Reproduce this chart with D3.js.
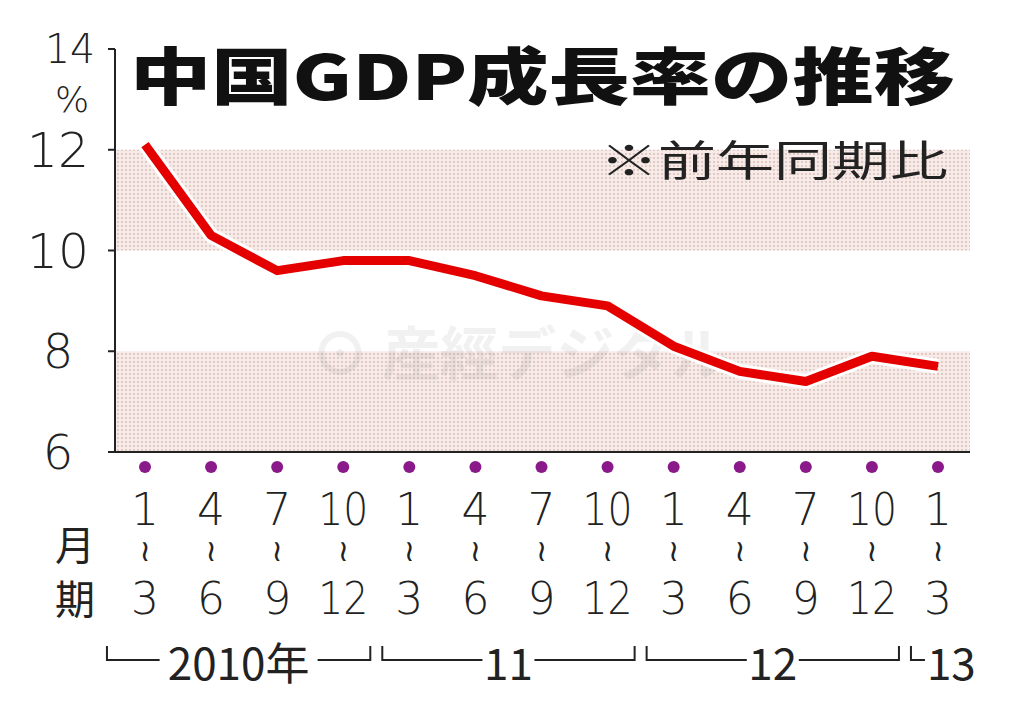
<!DOCTYPE html><html><head><meta charset="utf-8">
<script src="https://cdn.jsdelivr.net/npm/d3@7"></script>
<style>body{margin:0;background:#fff}svg{display:block}</style></head><body>
<svg id="c" width="1024" height="717"></svg>
<script>
const quarters=["1|3","4|6","7|9","10|12","1|3","4|6","7|9","10|12","1|3","4|6","7|9","10|12","1|3"];
const growth=[12.1,10.3,9.6,9.8,9.8,9.5,9.1,8.9,8.1,7.6,7.4,7.9,7.7];
const yTicks=[6,8,10,12,14];
const bands=[[6,8],[10,12]];
const years=[{label:"2010年",from:0,to:3},{label:"11",from:4,to:7},{label:"12",from:8,to:11},{label:"13",from:12,to:12}];
const svg=d3.select("#c");
const font="'DejaVu Sans','Liberation Sans',sans-serif";
const x=d3.scalePoint().domain(d3.range(growth.length)).range([145,938]);
const y=d3.scaleLinear().domain([6,14]).range([452,49]);
const defs=svg.append("defs");
const p=defs.append("pattern").attr("id","dots").attr("width",4).attr("height",4).attr("patternUnits","userSpaceOnUse");
p.append("rect").attr("width",4).attr("height",4).attr("fill","#f6ebe8");
p.append("circle").attr("cx",2).attr("cy",2).attr("r",0.9).attr("fill","#d9b8b0");
svg.selectAll(".band").data(bands).join("rect").attr("x",115).attr("width",855)
 .attr("y",d=>y(d[1])).attr("height",d=>y(d[0])-y(d[1])).attr("fill","url(#dots)");
svg.append("line").attr("x1",115).attr("x2",115).attr("y1",y(14)).attr("y2",y(6)).attr("stroke","#222").attr("stroke-width",2);
svg.append("line").attr("x1",115).attr("x2",970).attr("y1",y(6)).attr("y2",y(6)).attr("stroke","#222").attr("stroke-width",2);
svg.selectAll(".tk").data(yTicks).join("line").attr("x1",108).attr("x2",115).attr("y1",d=>y(d)).attr("y2",d=>y(d)).attr("stroke","#222").attr("stroke-width",2);
svg.selectAll(".yl").data(yTicks).join("text").attr("x",d=>d===14?70:58).attr("y",d=>y(d)+(d===14?14:17)).attr("text-anchor","middle")
 .attr("font-family",font).attr("font-weight",300).attr("font-size",d=>d===14?40:48).attr("fill","#222").attr("textLength",d=>d>=10?(d===14?50:62):null)
 .attr("lengthAdjust","spacingAndGlyphs").text(d=>d);
svg.append("text").attr("x",72).attr("y",112).attr("text-anchor","middle").attr("font-family",font).attr("font-weight",300).attr("font-size",36).attr("fill","#222").text("%");
svg.append("text").attr("x",520).attr("y",375).attr("text-anchor","middle").attr("font-family","'Noto Sans CJK JP'").attr("font-weight",700)
 .attr("font-size",58).attr("fill","#000").attr("opacity",0.05).text("⊙ 産經デジタル");
const ln=d3.line().x((d,i)=>x(i)).y(d=>y(d));
svg.append("path").datum(growth).attr("d",ln).attr("fill","none").attr("stroke","#fff").attr("stroke-width",15).attr("stroke-linejoin","round");
svg.append("path").datum(growth).attr("d",ln).attr("fill","none").attr("stroke","#e50000").attr("stroke-width",9).attr("stroke-linejoin","round");
svg.selectAll(".dt").data(quarters).join("circle").attr("cx",(d,i)=>x(i)).attr("cy",467).attr("r",6).attr("fill","#8a1a8a");
const jf="'Noto Sans CJK JP',sans-serif";
const g=svg.selectAll(".q").data(quarters).join("g").attr("transform",(d,i)=>`translate(${x(i)},0)`);
g.append("text").attr("y",525).attr("text-anchor","middle").attr("font-family",font).attr("font-weight",300).attr("font-size",44).attr("fill","#222")
 .attr("textLength",d=>d.split("|")[0].length>1?50:null).attr("lengthAdjust","spacingAndGlyphs").text(d=>d.split("|")[0]);
g.append("text").attr("y",561).attr("text-anchor","middle").attr("font-family",font).attr("font-size",30).attr("fill","#222").text("≀");
g.append("text").attr("y",614).attr("text-anchor","middle").attr("font-family",font).attr("font-weight",300).attr("font-size",44).attr("fill","#222")
 .attr("textLength",d=>d.split("|")[1].length>1?50:null).attr("lengthAdjust","spacingAndGlyphs").text(d=>d.split("|")[1]);
svg.append("text").attr("x",75).attr("y",560).attr("text-anchor","middle").attr("font-family",jf).attr("font-size",40).attr("fill","#222").text("月");
svg.append("text").attr("x",75).attr("y",614).attr("text-anchor","middle").attr("font-family",jf).attr("font-size",40).attr("fill","#222").text("期");
const step=x(1)-x(0);
years.forEach(yr=>{
 const x0=x(yr.from)-step/2+(yr.from===0?-5:6), x1=x(yr.to)+step/2-6;
 const cx=yr.label==="13"?x1-5:(x0+x1)/2;
 const tw=yr.label==="2010年"?150:(yr.label==="13"?50:44);
 const gy=660;
 const st=svg.append("g").attr("stroke","#222").attr("stroke-width",2).attr("fill","none");
 st.append("path").attr("d",`M${x0},${gy-14}V${gy}H${yr.label==="13"?x0+14:cx-tw/2-4}`);
 if(yr.label!=="13") st.append("path").attr("d",`M${cx+tw/2+4},${gy}H${x1}V${gy-14}`);
 svg.append("text").attr("x",yr.label==="13"?x0+16:cx).attr("y",gy+20).attr("text-anchor",yr.label==="13"?"start":"middle")
  .attr("font-family",jf).attr("font-size",44).attr("fill","#222").text(yr.label);
});
svg.append("text").attr("x",130).attr("y",100).attr("font-family",jf).attr("font-weight",900).attr("font-size",62).attr("fill","#111")
 .attr("textLength",825).attr("lengthAdjust","spacingAndGlyphs").text("中国GDP成長率の推移");
svg.append("text").attr("x",600).attr("y",176).attr("font-family",jf).attr("font-size",42).attr("fill","#222")
 .attr("textLength",348).attr("lengthAdjust","spacingAndGlyphs").text("※前年同期比");
</script></body></html>
